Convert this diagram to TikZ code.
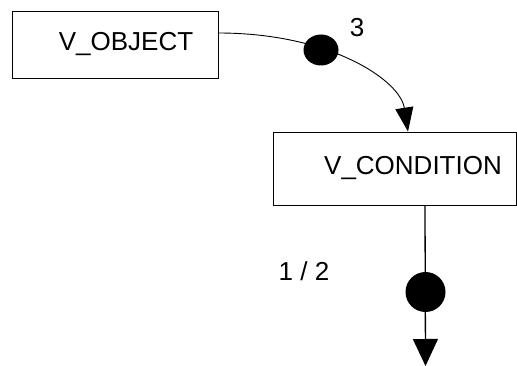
\documentclass[tikz,border=0pt]{standalone}
\usepackage{fontspec}
\setmainfont{Liberation Sans}
\usetikzlibrary{arrows.meta,shapes.geometric}
\begin{document}
\begin{tikzpicture}[x=1pt,y=-1pt,
  box/.style={draw,line width=0.9pt,rectangle,inner sep=0pt,font=\fontsize{26}{30}\selectfont},
  lbl/.style={font=\fontsize{26}{30}\selectfont,inner sep=0pt},
  dot/.style={fill=black,draw=none,inner sep=0pt}]
\useasboundingbox (0,0) rectangle (517,366);
\node[box,minimum width=206pt,minimum height=67pt] (obj) at (115,44.5) {\hspace{22pt}V\_OBJECT};
\node[box,minimum width=243pt,minimum height=73pt] (cond) at (394.5,168.5) {\hspace{37pt}V\_CONDITION};
\coordinate (t1) at ([xshift=13.5pt]cond.north);
\coordinate (s1) at ([yshift=11.5pt]obj.east);
\draw[line width=0.9pt,-{Triangle[length=24pt,width=18pt]}] (s1) .. controls (330,33) and (400,80) .. (t1);
\node[dot,ellipse,minimum width=35pt,minimum height=31pt] (d1) at (321,50) {};
\node[lbl] (n3) at (357,28) {3};
\coordinate (s2) at ([xshift=30.5pt]cond.south);
\coordinate (t2) at (425.5,366);
\draw[line width=1.3pt,-{Triangle[length=27pt,width=25pt]}] (s2) -- (t2);
\node[dot,circle,minimum size=40pt] (d2) at (425.5,292) {};
\node[lbl] (n12) at (304,271) {1 / 2};
\end{tikzpicture}
\end{document}
